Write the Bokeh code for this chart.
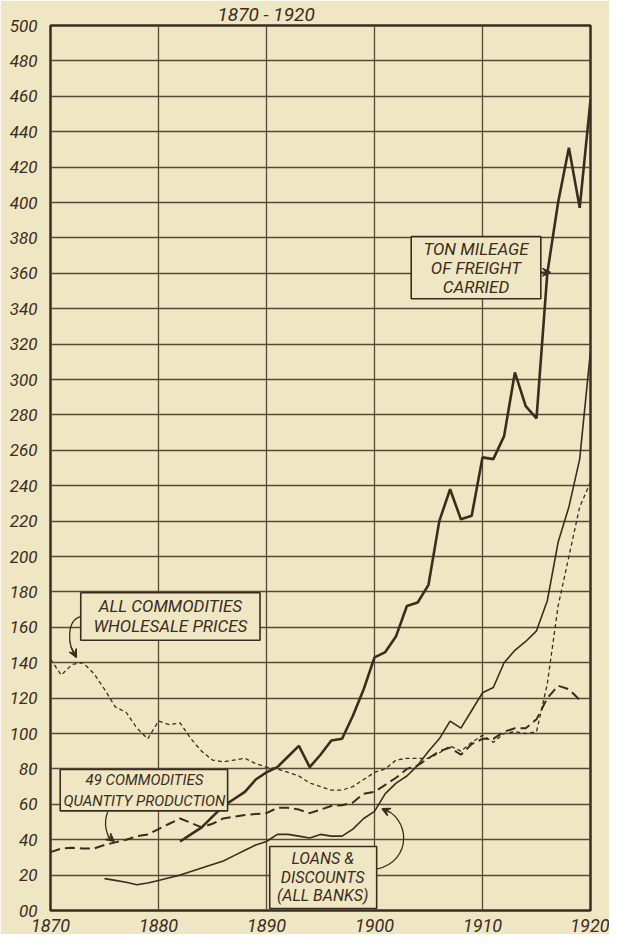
from bokeh.plotting import figure
from bokeh.embed import file_html
from bokeh.resources import INLINE
from bokeh.models import FixedTicker, Arrow, VeeHead, Range1d
from bokeh.core.properties import value

# ---------------- data ----------------
wholesale_years = list(range(1870, 1921))
wholesale = [142, 133, 139, 140, 134, 125, 115, 112, 103, 97,
             107, 105, 106, 97, 90, 85, 84, 85, 86, 83,
             81, 80, 78, 76, 72, 70, 68, 68, 70, 74,
             78, 80, 85, 86, 86, 86, 89, 93, 90, 95,
             99, 95, 100, 101, 100, 101, 128, 172, 200, 228,
             242]

production_years = list(range(1870, 1920))
production = [33, 35, 35.5, 35, 35, 37, 38.5, 40, 42, 43,
              46, 49, 52, 49.5, 47, 49, 52, 53, 54, 54.5,
              55, 58, 58, 57, 55, 57, 59, 59.5, 61, 66,
              67, 71, 75, 80, 82, 86, 90, 92, 88, 94,
              97, 97, 101, 103, 103, 108, 120, 127, 125, 119]

loans_years = list(range(1875, 1921))
loans = [18, 17, 16, 14.5, 15.5,
         17, 18.5, 20, 22, 24, 26, 28, 31, 34, 37,
         39, 43, 43, 42, 41, 43, 42, 42, 46, 52,
         56, 66, 72, 76, 82, 90, 97, 107, 103, 113,
         123, 126, 140, 147, 152, 158, 175, 208, 228, 255,
         316]

freight_years = list(range(1882, 1921))
freight = [39, 43, 47, 53, 59, 63, 67, 74,
           78, 81, 87, 93, 81, 88, 96, 97, 110, 125,
           143, 146, 155, 172, 174, 184, 220, 238, 221, 223,
           256, 255, 268, 304, 285, 278, 360, 400, 431, 397,
           458]

y_ticks = list(range(0, 501, 20))
y_tick_labels = {t: ("00" if t == 0 else str(t)) for t in y_ticks}
x_ticks = [1870, 1880, 1890, 1900, 1910, 1920]
title_text = "1870 - 1920"

label_wholesale = ["ALL COMMODITIES", "WHOLESALE PRICES"]
label_production = ["49 COMMODITIES", "QUANTITY PRODUCTION"]
label_loans = ["LOANS &", "DISCOUNTS", "(ALL BANKS)"]
label_freight = ["TON MILEAGE", "OF FREIGHT", "CARRIED"]

# ---------------- style ----------------
INK = "#3b2c20"
GRID = "#5a4837"
BG = "#efe7c3"
FONT = "Roboto"

p = figure(width=609, height=934, output_backend="svg", toolbar_location=None,
           x_range=Range1d(1870, 1920), y_range=Range1d(0, 500),
           min_border_left=50, min_border_right=19, min_border_top=0,
           min_border_bottom=10)
p.background_fill_color = BG
p.border_fill_color = BG
p.outline_line_color = INK
p.outline_line_width = 2.5

p.title.text = title_text
p.title.align = "left"
p.title.offset = 167
p.title.text_font = FONT
p.title.text_font_style = "italic"
p.title.text_font_size = "19px"
p.title.text_color = INK
p.title.standoff = 0

p.xaxis.ticker = FixedTicker(ticks=x_ticks)
p.yaxis.ticker = FixedTicker(ticks=y_ticks)
p.yaxis.major_label_overrides = y_tick_labels
for ax in (p.xaxis[0], p.yaxis[0]):
    ax.axis_line_color = None
    ax.major_tick_line_color = None
    ax.minor_tick_line_color = None
    ax.major_tick_out = 0
    ax.major_tick_in = 0
    ax.major_label_text_font = FONT
    ax.major_label_text_font_style = "italic"
    ax.major_label_text_color = INK
p.yaxis.major_label_text_font_size = "17px"
p.yaxis.major_label_standoff = 13
p.xaxis.major_label_text_font_size = "18px"
p.xaxis.major_label_standoff = 8

p.xgrid.ticker = FixedTicker(ticks=x_ticks)
p.ygrid.ticker = FixedTicker(ticks=y_ticks)
p.grid.grid_line_color = GRID
p.grid.grid_line_width = 1.3
p.grid.grid_line_alpha = 1.0

# ---------------- series ----------------
p.line(wholesale_years, wholesale, line_color=INK, line_width=1.3, line_dash="4 3")
p.line(production_years, production, line_color=INK, line_width=2.0, line_dash="10 5")
p.line(loans_years, loans, line_color=INK, line_width=1.6)
p.line(freight_years, freight, line_color=INK, line_width=2.6)

# ---------------- annotation boxes ----------------
boxes = dict(left=[1872.8, 1870.9, 1890.3, 1903.4],
             right=[1889.4, 1886.4, 1900.2, 1915.4],
             bottom=[152.7, 56.3, 1.1, 345.6],
             top=[179.5, 79.7, 36.2, 380.7])
p.quad(left=boxes["left"], right=boxes["right"], bottom=boxes["bottom"], top=boxes["top"],
       fill_color=BG, line_color=INK, line_width=1.6)

for labels, xs, ys, size in [
        (label_wholesale, 1881.1, [172.3, 160.5], "17px"),
        (label_production, 1878.7, [73.6, 62.0], "15px"),
        (label_loans, 1895.2, [29.5, 18.6, 8.4], "16px"),
        (label_freight, 1909.4, [373.5, 363.0, 352.0], "17px")]:
    p.text(x=[xs] * len(labels), y=ys, text=labels, text_align="center",
           text_baseline="middle", text_font=value(FONT), text_font_style="italic",
           text_font_size=size, text_color=INK)

# ---------------- arrows ----------------
p.bezier(x0=[1872.8, 1875.3, 1900.2], y0=[166, 55.7, 23.4],
         x1=[1872.4, 1875.9, 1900.7], y1=[143, 39, 57.5],
         cx0=[1871.5, 1874.9, 1903.6], cy0=[164, 50, 28],
         cx1=[1871.5, 1875.1, 1903.3], cy1=[150, 41, 53],
         line_color=INK, line_width=1.3)
for (xs, ys, xe, ye) in [(1871.9, 149, 1872.4, 143), (1875.3, 42, 1875.9, 39),
                         (1901.4, 55.5, 1900.7, 57.5), (1915.4, 360.6, 1916.3, 360.6)]:
    p.add_layout(Arrow(x_start=xs, y_start=ys, x_end=xe, y_end=ye,
                       line_color=INK, line_width=1.3,
                       end=VeeHead(size=8, line_color=INK, line_width=1.3, fill_color=INK)))

open("out.html", "w").write(file_html(p, INLINE))
